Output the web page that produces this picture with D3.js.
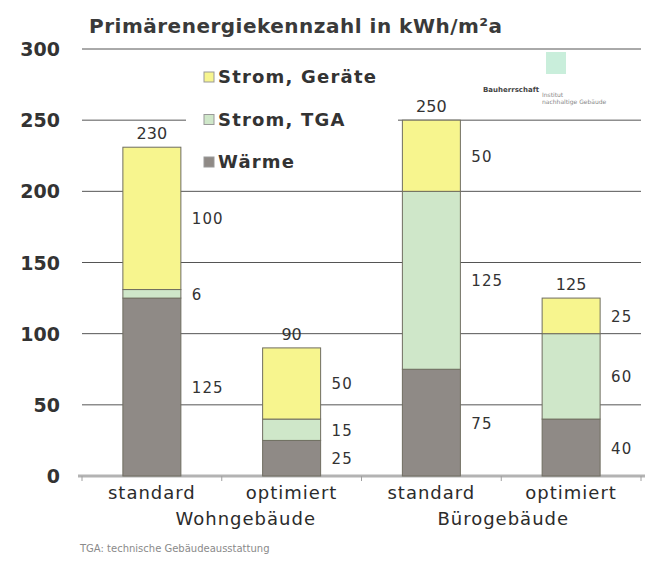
<!DOCTYPE html>
<html>
<head>
<meta charset="utf-8">
<script src="https://cdn.jsdelivr.net/npm/d3@7"></script>
<style>
  body { margin: 0; background: #fff; }
  svg { display: block; font-family: 'DejaVu Sans', sans-serif; }
</style>
</head>
<body>
<div id="chart"></div>
<script>
var categories = ['standard', 'optimiert', 'standard', 'optimiert'];
var groups = ['Wohngebäude', 'Bürogebäude'];
var seriesNames = ['Wärme', 'Strom, TGA', 'Strom, Geräte'];
var waerme = [125, 25, 75, 40];
var stromTGA = [6, 15, 125, 60];
var stromGeraete = [100, 50, 50, 25];
var totals = [230, 90, 250, 125];
var yTicks = [0, 50, 100, 150, 200, 250, 300];

(function() {
    var width = 653, height = 562;
    var colors = { 'Wärme': '#8f8a86', 'Strom, TGA': '#cfe7c9', 'Strom, Geräte': '#f7f58e' };

    var rows = categories.map(function(c, i) {
        return { i: i, 'Wärme': waerme[i], 'Strom, TGA': stromTGA[i], 'Strom, Geräte': stromGeraete[i] };
    });
    var stacked = d3.stack().keys(seriesNames)(rows);

    var svg = d3.select('#chart').append('svg')
        .attr('width', width)
        .attr('height', height);

    var x = d3.scaleBand().domain(d3.range(categories.length)).range([82, 641]);
    var y = d3.scaleLinear().domain([0, 300]).range([476, 49]);
    var barW = x.bandwidth() * 0.415;

    // title
    svg.append('text')
        .attr('x', 89).attr('y', 33)
        .attr('font-size', '20px')
        .attr('font-weight', 'bold')
        .attr('letter-spacing', '0.5px')
        .attr('fill', '#3a3a3a')
        .text('Primärenergiekennzahl in kWh/m²a');

    // grid lines
    svg.append('g')
        .selectAll('line')
        .data(yTicks.filter(function(d) { return d > 0; }))
        .join('line')
        .attr('x1', 82).attr('x2', 641)
        .attr('y1', function(d) { return y(d); })
        .attr('y2', function(d) { return y(d); })
        .attr('stroke', '#555')
        .attr('stroke-width', 1);

    // y tick labels
    svg.append('g')
        .selectAll('text')
        .data(yTicks)
        .join('text')
        .attr('x', 60)
        .attr('y', function(d) { return y(d) + 7; })
        .attr('text-anchor', 'end')
        .attr('font-size', '19px')
        .attr('font-weight', 'bold')
        .attr('fill', '#333')
        .text(function(d) { return d; });

    // x axis line
    var axis = svg.append('g').attr('transform', 'translate(0,' + y(0) + ')');
    axis.append('line')
        .attr('x1', 78).attr('x2', 645)
        .attr('stroke', '#b3b3b3').attr('stroke-width', 3);
    axis.selectAll('line.tick')
        .data(d3.range(categories.length + 1))
        .join('line')
        .attr('class', 'tick')
        .attr('x1', function(d) { return 82 + d * x.step(); })
        .attr('x2', function(d) { return 82 + d * x.step(); })
        .attr('y1', 0).attr('y2', 5)
        .attr('stroke', '#a0a0a0');

    // legend background hides grid lines
    svg.append('rect')
        .attr('x', 186).attr('y', 57)
        .attr('width', 212).attr('height', 122)
        .attr('fill', '#fff');

    // bars
    var layer = svg.append('g')
        .selectAll('g')
        .data(stacked)
        .join('g')
        .attr('fill', function(d) { return colors[d.key]; });

    layer.selectAll('rect')
        .data(function(d) { return d; })
        .join('rect')
        .attr('x', function(d) { return x(d.data.i) + (x.bandwidth() - barW) / 2; })
        .attr('y', function(d) { return y(d[1]); })
        .attr('width', barW)
        .attr('height', function(d) { return y(d[0]) - y(d[1]); })
        .attr('stroke', '#6f6d60')
        .attr('stroke-width', 1);

    // segment labels
    layer.selectAll('text')
        .data(function(d) { return d; })
        .join('text')
        .attr('x', function(d) { return x(d.data.i) + (x.bandwidth() + barW) / 2 + 11; })
        .attr('y', function(d) { return y((d[0] + d[1]) / 2) + 6; })
        .attr('font-size', '15px')
        .attr('letter-spacing', '1px')
        .attr('fill', '#333')
        .text(function(d) { return d[1] - d[0]; });

    // totals
    svg.append('g')
        .selectAll('text')
        .data(totals)
        .join('text')
        .attr('x', function(d, i) { return x(i) + x.bandwidth() / 2; })
        .attr('y', function(d, i) { return y(stacked[2][i][1]) - 8; })
        .attr('text-anchor', 'middle')
        .attr('font-size', '16px')
        .attr('fill', '#333')
        .text(function(d) { return d; });

    // category labels
    svg.append('g')
        .selectAll('text')
        .data(categories)
        .join('text')
        .attr('x', function(d, i) { return x(i) + x.bandwidth() / 2; })
        .attr('y', 499)
        .attr('text-anchor', 'middle')
        .attr('font-size', '18px')
        .attr('letter-spacing', '1px')
        .attr('fill', '#2b2b2b')
        .text(function(d) { return d; });

    var groupShift = [24, 2];
    svg.append('g')
        .selectAll('text')
        .data(groups)
        .join('text')
        .attr('x', function(d, i) { return (x(i * 2) + x(i * 2 + 1) + x.bandwidth()) / 2 + groupShift[i]; })
        .attr('y', 525)
        .attr('text-anchor', 'middle')
        .attr('font-size', '18px')
        .attr('letter-spacing', '1px')
        .attr('fill', '#2b2b2b')
        .text(function(d) { return d; });

    // legend
    var legendItems = seriesNames.slice().reverse();
    var legend = svg.append('g')
        .selectAll('g')
        .data(legendItems)
        .join('g')
        .attr('transform', function(d, i) { return 'translate(204,' + (83 + i * 42.5) + ')'; });

    legend.append('rect')
        .attr('x', 0).attr('y', -11)
        .attr('width', 10).attr('height', 10)
        .attr('fill', function(d) { return colors[d]; })
        .attr('stroke', '#999');

    legend.append('text')
        .attr('x', 14).attr('y', 0)
        .attr('font-size', '18px')
        .attr('font-weight', 'bold')
        .attr('letter-spacing', '1.2px')
        .attr('fill', '#333')
        .text(function(d) { return d; });

    // small logo, top right
    svg.append('rect')
        .attr('x', 546).attr('y', 52)
        .attr('width', 20).attr('height', 22)
        .attr('fill', '#c9eedb');
    svg.append('text')
        .attr('x', 483).attr('y', 92)
        .attr('font-size', '7px')
        .attr('font-weight', 'bold')
        .attr('fill', '#444')
        .text('Bauherrschaft');
    svg.append('text')
        .attr('x', 542).attr('y', 97)
        .attr('font-size', '6px')
        .attr('fill', '#888')
        .text('Institut');
    svg.append('text')
        .attr('x', 542).attr('y', 104)
        .attr('font-size', '6px')
        .attr('fill', '#888')
        .text('nachhaltige Gebäude');

    // footnote
    svg.append('text')
        .attr('x', 80).attr('y', 552)
        .attr('font-size', '10px')
        .attr('fill', '#8a8a8a')
        .text('TGA: technische Gebäudeausstattung');
})();
</script>
</body>
</html>
